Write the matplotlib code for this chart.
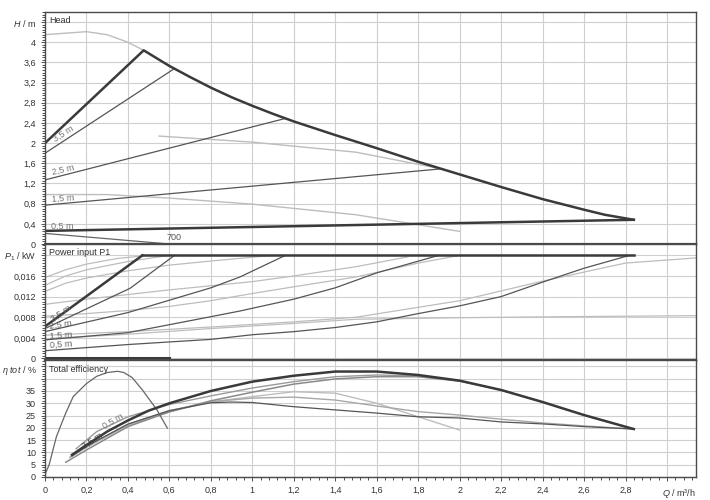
import matplotlib
matplotlib.use("Agg")
import matplotlib.pyplot as plt
from matplotlib.ticker import MultipleLocator

plt.rcParams['font.family'] = ['Liberation Sans', 'DejaVu Sans']
plt.rcParams['mathtext.fontset'] = 'custom'
plt.rcParams['mathtext.it'] = 'Liberation Sans:italic'
plt.rcParams['mathtext.rm'] = 'Liberation Sans'

# ---- Head panel data (Q in m3/h, H in m)
q_head_max = [0, 0.1, 0.2, 0.3, 0.4, 0.476]
h_head_max = [4.15, 4.18, 4.21, 4.15, 4.0, 3.84]
q_head_thick = [0, 0.476, 0.6, 0.7, 0.8, 0.9, 1.0, 1.1, 1.2, 1.4, 1.6, 1.8, 2.0, 2.2, 2.4, 2.6, 2.7, 2.84]
h_head_thick = [2.0, 3.84, 3.53, 3.31, 3.1, 2.91, 2.74, 2.58, 2.43, 2.16, 1.9, 1.63, 1.38, 1.13, 0.89, 0.68, 0.58, 0.48]
q_head_05 = [0, 2.84]
h_head_05 = [0.26, 0.48]
q_head_35 = [0, 0.625]
h_head_35 = [1.8, 3.48]
q_head_25 = [0, 1.16]
h_head_25 = [1.27, 2.49]
q_head_15 = [0, 1.91]
h_head_15 = [0.77, 1.49]
q_head_l1 = [0.55, 1.0, 1.5, 1.9]
h_head_l1 = [2.14, 2.02, 1.82, 1.5]
q_head_l2 = [0, 0.3, 0.6, 1.0, 1.5, 2.0]
h_head_l2 = [0.98, 0.98, 0.91, 0.79, 0.58, 0.25]
q_head_700 = [0, 0.2, 0.4, 0.6]
h_head_700 = [0.21, 0.14, 0.07, 0.0]

# ---- Power panel data (kW)
q_pow_top = [0.47, 2.84]
p_pow_top = [0.02, 0.02]
q_pow_thick = [0, 0.47]
p_pow_thick = [0.0062, 0.02]
q_pow_35 = [0, 0.22, 0.41, 0.625]
p_pow_35 = [0.0058, 0.0100, 0.0136, 0.02]
q_pow_25 = [0, 0.4, 0.8, 0.94, 1.16]
p_pow_25 = [0.0052, 0.0089, 0.0137, 0.0158, 0.02]
q_pow_15 = [0, 0.4, 0.8, 0.94, 1.2, 1.4, 1.6, 1.9]
p_pow_15 = [0.0036, 0.005, 0.0081, 0.0092, 0.0115, 0.0137, 0.0166, 0.02]
q_pow_05 = [0, 0.4, 0.8, 1.0, 1.2, 1.4, 1.6, 1.8, 2.0, 2.2, 2.4, 2.6, 2.82]
p_pow_05 = [0.0015, 0.0027, 0.0037, 0.0046, 0.0052, 0.006, 0.0071, 0.0087, 0.0102, 0.012, 0.0148, 0.0175, 0.02]
q_pow_700 = [0, 0.6]
p_pow_700 = [0, 0]
light_pow = [
    ([0, 0.1, 0.2, 0.35, 0.5], [0.0157, 0.0172, 0.0183, 0.0194, 0.02]),
    ([0, 0.1, 0.2, 0.4, 0.6], [0.0142, 0.016, 0.0172, 0.0188, 0.02]),
    ([0, 0.1, 0.2, 0.4, 0.6, 0.8, 1.1], [0.013, 0.0146, 0.0156, 0.017, 0.0181, 0.0189, 0.02]),
    ([0, 0.2, 0.4, 0.6, 0.8, 1.0, 1.2, 1.5, 1.75], [0.0105, 0.0115, 0.0124, 0.0133, 0.0141, 0.0149, 0.016, 0.0178, 0.0197]),
    ([0, 0.2, 0.4, 0.6, 0.8, 1.0, 1.2, 1.5, 1.8, 2.0], [0.0082, 0.0087, 0.0093, 0.0101, 0.0112, 0.0126, 0.0139, 0.0158, 0.0185, 0.02]),
    ([0, 0.4, 0.8, 1.2, 1.5, 2.0, 2.4, 2.8, 3.14], [0.0045, 0.0052, 0.0061, 0.0071, 0.008, 0.0112, 0.015, 0.0185, 0.0195]),
    ([0, 0.4, 0.8, 1.2, 1.5, 2.0, 2.5, 3.14], [0.0038, 0.0047, 0.0058, 0.0068, 0.0076, 0.0079, 0.0081, 0.0083]),
]

# ---- Efficiency panel data (%)
q_eta_700 = [0, 0.02, 0.055, 0.1, 0.136, 0.2, 0.25, 0.3, 0.35, 0.38, 0.42, 0.47, 0.54, 0.59]
e_eta_700 = [1, 5, 16.4, 26, 32.7, 38, 41, 42.5, 43, 42.5, 40.5, 35.4, 27.3, 19.9]
q_eta_thick = [0.13, 0.2, 0.3, 0.4, 0.5, 0.6, 0.8, 1.0, 1.2, 1.4, 1.6, 1.8, 2.0, 2.2, 2.4, 2.6, 2.84]
e_eta_thick = [9, 13, 18.5, 23, 27, 30, 35, 38.8, 41.2, 42.9, 42.9, 41.5, 39.2, 35.4, 30.5, 25.2, 19.5]
q_eta_a = [0.15, 0.25, 0.4, 0.6, 0.8, 1.0, 1.2, 1.4, 1.6, 1.8, 2.0]
e_eta_a = [11.5, 18.5, 24.5, 29.5, 33, 36.2, 38.8, 40.8, 41.5, 41.1, 39.2]
q_eta_b = [0.1, 0.2, 0.4, 0.6, 0.8, 1.0, 1.2, 1.4, 1.6, 1.8, 2.0, 2.2, 2.4, 2.6, 2.84]
e_eta_b = [6, 11, 20.5, 26.5, 31, 34.5, 37.8, 39.9, 40.8, 40.8, 39, 35.4, 30.5, 25.2, 19.5]
q_eta_l1 = [0.12, 0.2, 0.4, 0.6, 0.8, 1.0, 1.2, 1.4, 1.6, 1.8, 2.0]
e_eta_l1 = [8, 12, 21, 26.5, 30.6, 32.7, 34.7, 34.1, 30, 24.5, 19.1]
q_eta_l2 = [0.12, 0.2, 0.4, 0.6, 0.8, 1.0, 1.2, 1.4, 1.6, 1.8, 2.0, 2.2, 2.4, 2.6, 2.84]
e_eta_l2 = [8, 12.5, 21.5, 27, 30.6, 32.1, 32.5, 31.3, 28.9, 26.6, 25.2, 23.5, 22, 20.8, 19.5]
q_eta_d = [0.13, 0.2, 0.4, 0.6, 0.8, 0.9, 1.0, 1.2, 1.4, 1.6, 1.8, 2.0, 2.2, 2.4, 2.6, 2.84]
e_eta_d = [8.5, 12.5, 21.5, 27, 30.2, 30.5, 30.3, 28.6, 27.3, 26, 24.5, 24, 22.4, 21.6, 20.5, 19.5]

x_ticks = [0, 0.2, 0.4, 0.6, 0.8, 1.0, 1.2, 1.4, 1.6, 1.8, 2.0, 2.2, 2.4, 2.6, 2.8]

THICK = '#3a3a3a'
DARK = '#555555'
LIGHT = '#bdbdbd'
GRID = '#cfcfcf'
FS = 6.5


def comma(v, pos=None):
    s = ('%.3f' % v).rstrip('0').rstrip('.')
    return s.replace('.', ',')


fig = plt.figure(figsize=(7.1, 5.0), dpi=100)
L, W = 45 / 710, 651 / 710
ax_h = fig.add_axes([L, 1 - 244 / 500, W, 232 / 500])
ax_p = fig.add_axes([L, 1 - 360 / 500, W, 116 / 500])
ax_e = fig.add_axes([L, 1 - 477 / 500, W, 117 / 500])

for ax in (ax_h, ax_p, ax_e):
    ax.set_xlim(0, 3.14)
    ax.set_xticks(x_ticks + [3.0])
    ax.xaxis.set_minor_locator(MultipleLocator(0.04))
    ax.grid(True, which='major', color=GRID, lw=0.8)
    ax.set_axisbelow(True)
    for s in ax.spines.values():
        s.set_color('#4a4a4a')
        s.set_linewidth(1.0)
    ax.tick_params(which='both', direction='out', labelsize=FS, colors='#333333', length=3, width=0.6)
    ax.tick_params(which='minor', length=2)
    ax.tick_params(axis='x', which='both', bottom=(ax is ax_e), labelbottom=(ax is ax_e))

ax_h.spines['bottom'].set_linewidth(1.6)
ax_p.spines['bottom'].set_linewidth(1.6)

# Head
ax_h.set_ylim(0, 4.6)
ax_h.set_yticks([0, 0.4, 0.8, 1.2, 1.6, 2.0, 2.4, 2.8, 3.2, 3.6, 4.0, 4.4])
ax_h.set_yticklabels([comma(v) for v in [0, 0.4, 0.8, 1.2, 1.6, 2.0, 2.4, 2.8, 3.2, 3.6, 4.0]] + [r'$H$ / m'])
ax_h.yaxis.set_minor_locator(MultipleLocator(0.05))
ax_h.plot(q_head_max, h_head_max, color=LIGHT, lw=1.0)
ax_h.plot(q_head_l1, h_head_l1, color=LIGHT, lw=1.0)
ax_h.plot(q_head_l2, h_head_l2, color=LIGHT, lw=1.0)
ax_h.plot(q_head_35, h_head_35, color=DARK, lw=0.9)
ax_h.plot(q_head_25, h_head_25, color=DARK, lw=0.9)
ax_h.plot(q_head_15, h_head_15, color=DARK, lw=0.9)
ax_h.plot(q_head_700, h_head_700, color='#666666', lw=0.9)
ax_h.plot(q_head_05, h_head_05, color=THICK, lw=1.8)
ax_h.plot(q_head_thick, h_head_thick, color=THICK, lw=1.8)
ax_h.text(0.02, 4.52, 'Head', fontsize=FS, va='top', color='#333333')
ax_h.text(0.03, 2.02, '3,5 m', fontsize=FS, color='#777777', rotation=33)
ax_h.text(0.03, 1.38, '2,5 m', fontsize=FS, color='#777777', rotation=13)
ax_h.text(0.03, 0.84, '1,5 m', fontsize=FS, color='#777777', rotation=4)
ax_h.text(0.03, 0.31, '0,5 m', fontsize=FS, color='#777777')
ax_h.text(0.62, 0.12, '700', fontsize=FS, color='#555555', ha='center', va='center')

# Power
ax_p.set_ylim(-0.0003, 0.0222)
ax_p.set_yticks([0, 0.004, 0.008, 0.012, 0.016, 0.02])
ax_p.set_yticklabels([comma(v) for v in [0, 0.004, 0.008, 0.012, 0.016]] + [r'$P_1$ / kW'])
ax_p.yaxis.set_minor_locator(MultipleLocator(0.0005))
for qq, pp in light_pow:
    ax_p.plot(qq, pp, color=LIGHT, lw=0.9)
ax_p.plot(q_pow_35, p_pow_35, color=DARK, lw=0.9)
ax_p.plot(q_pow_25, p_pow_25, color=DARK, lw=0.9)
ax_p.plot(q_pow_15, p_pow_15, color=DARK, lw=0.9)
ax_p.plot(q_pow_05, p_pow_05, color=DARK, lw=0.9)
ax_p.plot(q_pow_700, p_pow_700, color=THICK, lw=2.2)
ax_p.plot(q_pow_top, p_pow_top, color=THICK, lw=1.8)
ax_p.plot(q_pow_thick, p_pow_thick, color=THICK, lw=1.8)
ax_p.text(0.02, 0.0205, 'Power input P1', fontsize=FS, va='center', color='#333333')
ax_p.text(0.02, 0.0071, '3,5 m', fontsize=FS, color='#666666', rotation=35)
ax_p.text(0.02, 0.0057, '2,5 m', fontsize=FS, color='#666666', rotation=8)
ax_p.text(0.02, 0.0038, '1,5 m', fontsize=FS, color='#666666', rotation=4)
ax_p.text(0.02, 0.0021, '0,5 m', fontsize=FS, color='#666666', rotation=4)

# Efficiency
ax_e.set_ylim(0, 47.6)
ax_e.set_yticks([0, 5, 10, 15, 20, 25, 30, 35, 40, 45])
ax_e.set_yticklabels(['0', '5', '10', '15', '20', '25', '30', '35', '', ''])
ax_e.yaxis.set_minor_locator(MultipleLocator(1))
ax_e.text(-0.012, 43.5, r'$\eta\ tot$ / %', transform=ax_e.get_yaxis_transform(),
          fontsize=FS, ha='right', va='center', color='#333333')
ax_e.plot(q_eta_l1, e_eta_l1, color=LIGHT, lw=1.0)
ax_e.plot(q_eta_l2, e_eta_l2, color='#a8a8a8', lw=1.0)
ax_e.plot(q_eta_a, e_eta_a, color='#9a9a9a', lw=1.0)
ax_e.plot(q_eta_b, e_eta_b, color='#8a8a8a', lw=1.1)
ax_e.plot(q_eta_d, e_eta_d, color=DARK, lw=0.9)
ax_e.plot(q_eta_700, e_eta_700, color='#666666', lw=0.9)
ax_e.plot(q_eta_thick, e_eta_thick, color=THICK, lw=1.8)
ax_e.text(0.02, 45.5, 'Total efficiency', fontsize=FS, va='top', color='#333333')
ax_e.text(0.27, 19.5, '0,5 m', fontsize=FS, color='#777777', rotation=30)
ax_e.text(0.17, 11.5, '3,5 m', fontsize=FS, color='#444444', rotation=33)
ax_e.set_xticklabels([comma(v) for v in x_ticks] + [''])
ax_e.text(1.0, -0.14, r'$Q$ / m³/h', transform=ax_e.transAxes, fontsize=FS,
          ha='right', va='center', color='#333333')

fig.savefig('out.png', dpi=100)
